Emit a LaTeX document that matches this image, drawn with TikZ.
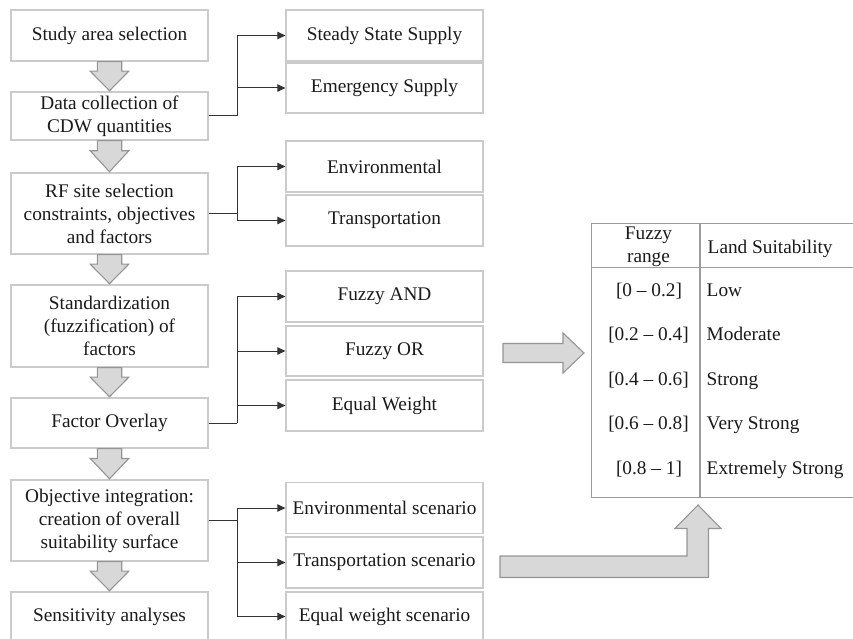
\documentclass[tikz,border=0pt]{standalone}
\usepackage{fontspec}
\setmainfont{Liberation Serif}
\usetikzlibrary{arrows.meta,calc}

\definecolor{boxgray}{HTML}{CBCBCB}
\definecolor{linec}{HTML}{333333}
\definecolor{textc}{HTML}{1A1A1A}
\definecolor{tablec}{HTML}{9C9C9C}
\definecolor{arrowfill}{HTML}{D8D8D8}
\definecolor{arrowedge}{HTML}{959595}

\newcommand\bodyfont{\fontsize{19.3pt}{23pt}\selectfont}

% gray block arrow pointing down from one step box to the next
\newcommand\flowdown[2]{%
  \filldraw[blockarrow] let \p1=(#1.south), \p2=(#2.north), \n1={0.32*(\y1-\y2)} in
    (\x1-12.2pt,\y1) -- (\x1-12.2pt,\y1-\n1) -- (\x1-19.3pt,\y1-\n1) -- (\x1,\y2+0.6pt)
    -- (\x1+19.3pt,\y1-\n1) -- (\x1+12.2pt,\y1-\n1) -- (\x1+12.2pt,\y1) -- cycle;}

\tikzset{
  box/.style={draw=boxgray, line width=1.3pt, minimum width=197pt, inner sep=2pt,
    align=center, font=\bodyfont, text=textc},
  conn/.style={draw=linec, line width=1pt},
  arr/.style={conn, -{Triangle[length=8pt,width=7.5pt]}},
  blockarrow/.style={fill=arrowfill, draw=arrowedge, line width=1.1pt, line join=miter},
  tabline/.style={draw=tablec, line width=1.1pt},
  cellc/.style={font=\bodyfont, text=textc, inner sep=0pt, text height=12.8pt, text depth=0pt},
  celll/.style={cellc, anchor=west},
}

\begin{document}
\begin{tikzpicture}[x=1pt,y=-1pt]
\useasboundingbox (0,0) rectangle (853,639);

% process steps
\node[box, minimum height=51pt] (s1) at (109.5,35.5) {Study area selection};
\node[box, minimum height=48pt] (s2) at (109.5,116) {Data collection of\\CDW quantities};
\node[box, minimum height=81pt] (s3) at (109.5,213.5) {RF site selection\\constraints, objectives\\and factors};
\node[box, minimum height=82pt] (s4) at (109.5,326) {Standardization\\(fuzzification) of\\factors};
\node[box, minimum height=50pt] (s5) at (109.5,423) {Factor Overlay};
\node[box, minimum height=81pt] (s6) at (109.5,520.5) {Objective integration:\\creation of overall\\suitability surface};
\node[box, minimum height=49pt] (s7) at (109.5,616.5) {Sensitivity analyses};

\flowdown{s1}{s2}
\flowdown{s2}{s3}
\flowdown{s3}{s4}
\flowdown{s4}{s5}
\flowdown{s5}{s6}
\flowdown{s6}{s7}

% options for each step
\node[box, minimum height=51pt] (r1) at (384.5,35.5) {Steady State Supply};
\node[box, minimum height=50pt] (r2) at (384.5,88) {Emergency Supply};
\node[box, minimum height=51pt] (r3) at (384.5,166.5) {Environmental};
\node[box, minimum height=51pt] (r4) at (384.5,220.5) {Transportation};
\node[box, minimum height=51pt] (r5) at (384.5,296.5) {Fuzzy AND};
\node[box, minimum height=50pt] (r6) at (384.5,351) {Fuzzy OR};
\node[box, minimum height=51pt] (r7) at (384.5,405.5) {Equal Weight};
\node[box, minimum height=51pt] (r8) at (384.5,508) {Environmental scenario};
\node[box, minimum height=51pt] (r9) at (384.5,562.5) {Transportation scenario};
\node[box, minimum height=49pt] (r10) at (384.5,616.5) {Equal weight scenario};

% branching connectors
\draw[conn] (s2.east) -- ++(28.5,0) coordinate (j1);
\draw[arr] (j1) |- (r1.west);
\draw[arr] (j1) |- (r2.west);

\draw[conn] (s3.east) -- ++(28.5,0) coordinate (j2);
\draw[arr] (j2) |- (r3.west);
\draw[arr] (j2) |- (r4.west);

\draw[conn] (s5.east) -- ++(28.5,0) coordinate (j3);
\draw[arr] (j3) |- (r5.west);
\draw[arr] (j3) |- (r6.west);
\draw[arr] (j3) |- (r7.west);

\draw[conn] (s6.east) -- ++(28.5,0) coordinate (j4);
\draw[arr] (j4) |- (r8.west);
\draw[arr] (j4) |- (r9.west);
\draw[arr] (j4) |- (r10.west);

% suitability table
\node[tabline, draw, line width=1.1pt, inner sep=0pt, anchor=north west,
      minimum width=280pt, minimum height=274pt] (tbl) at (590.5,222.5) {};
\draw[tabline] ($(tbl.north west)+(0,45)$) -- ($(tbl.north east)+(0,45)$);
\draw[tabline] ($(tbl.north west)+(109.5,0)$) -- ($(tbl.south west)+(109.5,0)$);

\node[font=\bodyfont, text=textc, align=center, inner sep=0pt] (h1) at (648.5,246.5) {Fuzzy\\range};
\node[celll] (h2) at (707.5,246.7) {Land Suitability};

\node[cellc] (a1) at (649,290) {[0 – 0.2]};
\node[celll] (b1) at (706.5,290) {Low};
\node[cellc] (a2) at (648.5,334.5) {[0.2 – 0.4]};
\node[celll] (b2) at (706.5,334.5) {Moderate};
\node[cellc] (a3) at (648.5,379) {[0.4 – 0.6]};
\node[celll] (b3) at (706.5,379) {Strong};
\node[cellc] (a4) at (648.5,423.5) {[0.6 – 0.8]};
\node[celll] (b4) at (706.5,423.5) {Very Strong};
\node[cellc] (a5) at (649,468) {[0.8 – 1]};
\node[celll] (b5) at (706.5,468) {Extremely Strong};

% block arrows leading into the table
\filldraw[blockarrow] (503,343.5) -- (563,343.5) -- (563,333) -- (584,353)
  -- (563,373) -- (563,362.5) -- (503,362.5) -- cycle;
\filldraw[blockarrow] (500,556) -- (687,556) -- (687,528.5) -- (675,528.5)
  -- (698,505) -- (721,528.5) -- (708.5,528.5) -- (708.5,577.5) -- (500,577.5) -- cycle;
\end{tikzpicture}
\end{document}
